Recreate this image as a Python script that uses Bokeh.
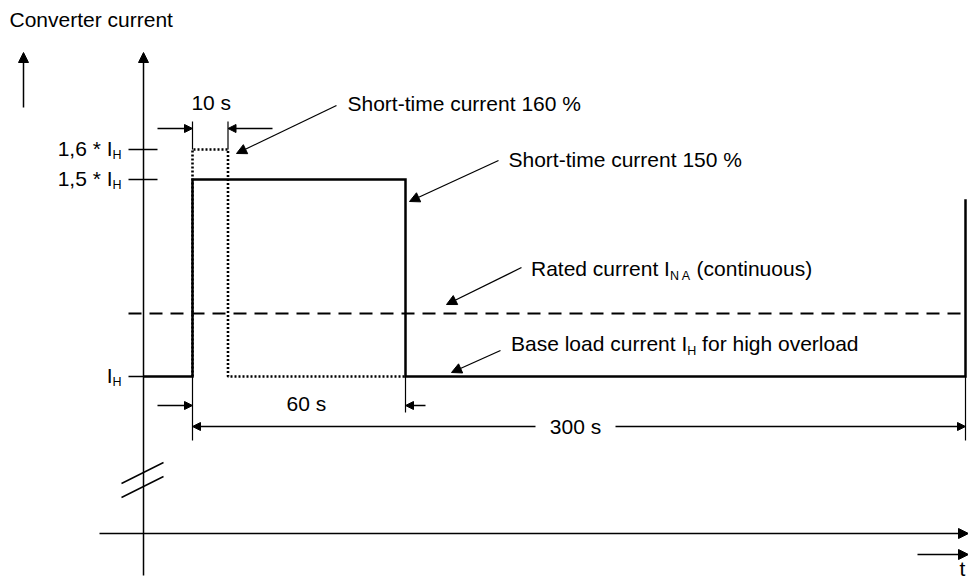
import numpy as np
from bokeh.plotting import figure
from bokeh.models import Range1d, Arrow, NormalHead
from bokeh.core.properties import value
from bokeh.embed import file_html
from bokeh.resources import INLINE

# ---------------- data ----------------
level_labels = ["1,6 * I", "1,5 * I", "I"]          # tick labels (subscript H added)
level_values = [1.6, 1.5, 1.0]                        # multiples of base-load current I_H
rated_current = 1.16                                  # I_N A (continuous), multiple of I_H
next_cycle_current = 1.45                             # start of next overload (cut off)
time_marks = [0, 10, 60, 300]                         # s
duration_labels = ["10 s", "60 s", "300 s"]
profile150_t = [-13.8, 0, 0, 60, 60, 300, 300]        # s  (starts at the current axis)
profile150_i = [1.0, 1.0, 1.5, 1.5, 1.0, 1.0, 1.45]
profile160_t = [0, 0, 10, 10, 60]
profile160_i = [1.0, 1.6, 1.6, 1.0, 1.0]

# ---------------- schematic (not to scale) mapping ----------------
def tx(t):
    t = np.asarray(t, dtype=float)
    return np.where(t <= 60, 192 + t * 3.55, 405 + (t - 60) * (560.0 / 240.0))

def cy(c):
    c = np.asarray(c, dtype=float)
    return 376 - (c - 1.0) * 394.0 + np.where(c > 1.5, (c - 1.5) * 94.0, 0.0)

W, H = 968, 581
X0, X1 = 0, 968
Y0, Y1 = 0, 581
SX = (X1 - X0) / W
SY = (Y1 - Y0) / H
FONT = "Liberation Sans"
FS = 21
FSUB = 12.5
TXT_DY = -8.0        # renderer baseline correction

p = figure(width=W, height=H, x_range=Range1d(X0, X1), y_range=Range1d(Y1, Y0),
           output_backend="svg", toolbar_location=None, min_border=0,
           x_axis_location=None, y_axis_location=None)
p.outline_line_color = None
p.grid.visible = False
p.background_fill_color = "white"
p.border_fill_color = "white"

AW = {' ': 278, '(': 333, ')': 333, '*': 389, ',': 278, '%': 889, '-': 333,
      '0': 556, '1': 556, '5': 556, '6': 556, '3': 556,
      'A': 667, 'B': 667, 'H': 722, 'I': 278, 'N': 722, 'R': 722, 'S': 667, 'C': 722,
      'a': 556, 'c': 500, 'd': 556, 'e': 556, 'f': 278, 'g': 556, 'h': 556, 'i': 222,
      'l': 222, 'm': 833, 'n': 556, 'o': 556, 'r': 333, 's': 500, 't': 278, 'u': 556,
      'v': 500}

def tw(s, size):
    return sum(AW.get(c, 556) for c in s) / 1000.0 * size * SX

def txt(x, y, s, size=FS, align="left"):
    p.text(x=[x], y=[y + TXT_DY * SY], text=[s], text_font=value(FONT),
           text_font_size=f"{size}px", text_align=align, text_baseline="alphabetic",
           text_color="black")

def rich(x, y, parts):
    """parts: list of (text, is_subscript); x = left of first part, y = baseline.
    Leading blanks are converted to an x offset (SVG collapses them)."""
    for s, sub in parts:
        size = FSUB if sub else FS
        stripped = s.lstrip(" ")
        x += tw(s[:len(s) - len(stripped)], size)
        txt(x, y + (7 * SY if sub else 0), stripped, size)
        x += tw(stripped, size)

def seg(xs, ys, lw=1.3, dash="solid"):
    p.line(xs, ys, line_color="black", line_width=lw, line_dash=dash, line_cap="butt")

def arrow(xs, ys, xe, ye, lw=1.3, size=9):
    p.add_layout(Arrow(end=NormalHead(size=size, fill_color="black", line_color="black", line_width=1),
                       x_start=xs, y_start=ys, x_end=xe, y_end=ye,
                       line_color="black", line_width=lw))

# ---------------- axes ----------------
AXIS_X = float(tx(profile150_t[0]))
arrow(AXIS_X, 575, AXIS_X, 52, lw=1.5, size=10)          # current axis
arrow(23, 107, 23, 52, lw=1.5, size=10)                  # small direction arrow
arrow(99, 533, 968, 533, lw=1.5, size=10)                # time axis
arrow(917, 554, 968, 554, lw=1.5, size=10)               # t direction arrow
txt(962, 576, "t", FS, "center")
txt(9, 26.5, "Converter current", FS)

# axis break marks
seg([121, 163], [483, 462], lw=1.4)
seg([121, 163], [497, 476], lw=1.4)

# ---------------- ticks & labels ----------------
for lab, v in zip(level_labels, level_values):
    yy = float(cy(v))
    x_right = 157 if v > 1.0 else AXIS_X
    seg([128, x_right], [yy, yy], lw=1.3)
    txt(112, yy + 6.5, lab, FS, "right")
    txt(112, yy + 13.5, "H", FSUB)

# ---------------- curves ----------------
y_rated = float(cy(rated_current))
seg([128, float(tx(time_marks[-1]))], [y_rated, y_rated], lw=2, dash="13 8")
p.line(tx(profile160_t), cy(profile160_i), line_color="black", line_width=2.6,
       line_dash="2 2", line_cap="butt")
p.line(tx(profile150_t), cy(profile150_i), line_color="black", line_width=2.5,
       line_join="miter")

# ---------------- dimensions ----------------
x0, x10, x60, x300 = [float(v) for v in tx(time_marks)]
y16, y15, y1 = [float(v) for v in cy(level_values)]
# 10 s
seg([x0, x0], [121, y16], lw=1.2)
seg([x10, x10], [121, y16], lw=1.2)
arrow(157, 128, x0, 128, lw=1.3, size=8)
arrow(272, 128, x10, 128, lw=1.3, size=8)
txt((x0 + x10) / 2 + 1, 109.5, duration_labels[0], FS, "center")
# 60 s
seg([x0, x0], [y1, 440], lw=1.2)
seg([x60, x60], [y1, 412], lw=1.2)
arrow(157, 405, x0, 405, lw=1.3, size=8)
arrow(425, 405, x60, 405, lw=1.3, size=8)
txt(286, 410.5, duration_labels[1], FS)
# 300 s
seg([x300, x300], [y1, 440], lw=1.2)
arrow(535, 426, x0, 426, lw=1.3, size=8)
arrow(615, 426, x300, 426, lw=1.3, size=8)
txt(575, 433.5, duration_labels[2], FS, "center")

# ---------------- annotations ----------------
arrow(336, 105, 236, 153, lw=1.3, size=10)
txt(347, 111, "Short-time current 160 %", FS)
arrow(498, 160, 409, 201, lw=1.3, size=10)
txt(508, 166.5, "Short-time current 150 %", FS)
arrow(521, 267, 446, 304, lw=1.3, size=10)
rich(530.5, 276, [("Rated current I", False), ("N A", True), (" (continuous)", False)])
arrow(500, 350, 451, 372, lw=1.3, size=10)
rich(510.5, 351, [("Base load current I", False), ("H", True), (" for high overload", False)])

open("out.html", "w").write(file_html(p, INLINE))
